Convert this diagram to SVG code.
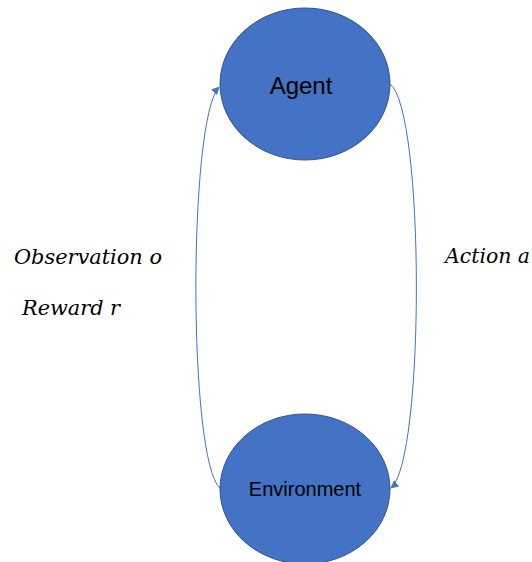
<svg xmlns="http://www.w3.org/2000/svg" width="532" height="562" viewBox="0 0 532 562">
  <defs>
    <style>
      .node { fill: #4472C4; stroke: #2F528F; stroke-width: 1; }
      .node-label { font-family: "Liberation Sans", Arial, sans-serif; fill: #000; text-anchor: middle; }
      .edge { fill: none; stroke: #4472C4; stroke-width: 1; }
      .edge-label { font-family: "DejaVu Serif", "Liberation Serif", serif; font-style: italic; font-size: 20px; fill: #000; }
    </style>
    <marker id="arrow" viewBox="0 0 10 10" refX="9" refY="5" markerWidth="9" markerHeight="8" markerUnits="userSpaceOnUse" orient="auto">
      <path d="M0,0 L10,5 L0,10 Z" fill="#4472C4"/>
    </marker>
  </defs>

  <rect width="532" height="562" fill="#ffffff"/>

  <!-- connectors -->
  <g id="connectors">
    <path id="edge-observe" class="edge" d="M220,488 C188,460 188,120 219,87" marker-end="url(#arrow)"/>
    <path id="edge-act" class="edge" d="M390,84 C425,110 425,460 391,488" marker-end="url(#arrow)"/>
  </g>

  <!-- nodes -->
  <g id="agent">
    <ellipse class="node" cx="305" cy="84" rx="85" ry="76"/>
    <text class="node-label" x="301" y="94" font-size="24">Agent</text>
  </g>

  <g id="environment">
    <ellipse class="node" cx="305" cy="489" rx="85" ry="75"/>
    <text class="node-label" x="305" y="496" font-size="20">Environment</text>
  </g>

  <!-- edge labels -->
  <g id="labels">
    <text class="edge-label" x="14" y="264" textLength="148" lengthAdjust="spacingAndGlyphs">Observation o</text>
    <text class="edge-label" x="22" y="315" textLength="98" lengthAdjust="spacingAndGlyphs">Reward r</text>
    <text class="edge-label" x="445" y="263" textLength="85" lengthAdjust="spacingAndGlyphs">Action a</text>
  </g>
</svg>
